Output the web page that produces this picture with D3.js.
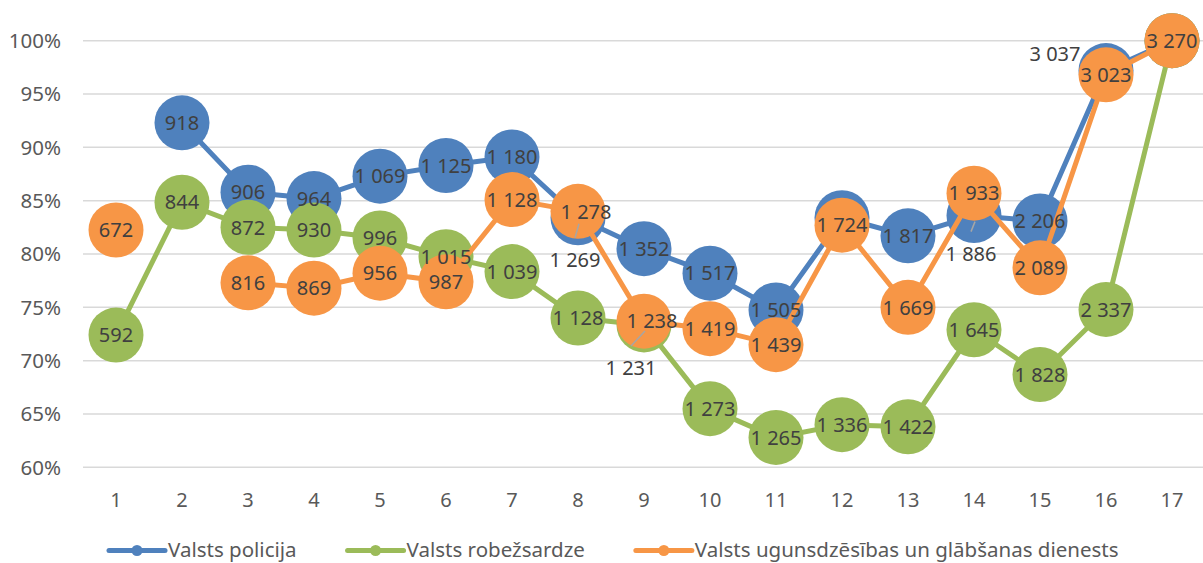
<!DOCTYPE html>
<html>
<head>
<meta charset="utf-8">
<script src="https://cdn.jsdelivr.net/npm/d3@7"></script>
<style>
  body { margin: 0; background: #fff; }
  svg { display: block; font-family: "Noto Sans", sans-serif; }
</style>
</head>
<body>
<div id="chart"></div>
<script>
// categories on the x axis
const categories = d3.range(1, 18).map(String)

// share values (fraction), null = no point
const policija = [null, 0.923, 0.858, 0.852, 0.873, 0.883, 0.891, 0.834, 0.805, 0.782, 0.7475, 0.834, 0.817, 0.836, 0.831, 0.972, 1.0]
const robezsardze = [0.724, 0.8485, 0.825, 0.8225, 0.815, 0.7975, 0.7835, 0.740, 0.7335, 0.655, 0.628, 0.640, 0.638, 0.729, 0.687, 0.748, 1.0]
const ugunsdzesiba = [0.8225, null, 0.773, 0.768, 0.782, 0.774, 0.851, 0.840, 0.737, 0.730, 0.715, 0.827, 0.750, 0.857, 0.787, 0.968, 1.0]

// counts shown as data labels, null = no label shown
const policijaLabels = [null, 918, 906, 964, 1069, 1125, 1180, 1269, 1352, 1517, 1505, null, 1817, 1886, 2206, 3037, null]
const robezsardzeLabels = [592, 844, 872, 930, 996, 1015, 1039, 1128, 1231, 1273, 1265, 1336, 1422, 1645, 1828, 2337, null]
const ugunsdzesibaLabels = [672, null, 816, 869, 956, 987, 1128, 1278, 1238, 1419, 1439, 1724, 1669, 1933, 2089, 3023, 3270]

const yTicks = [0.6, 0.65, 0.7, 0.75, 0.8, 0.85, 0.9, 0.95, 1.0]

const series = [
  { name: "Valsts policija", color: "#4F81BD", values: policija, labels: policijaLabels },
  { name: "Valsts robežsardze", color: "#9BBB59", values: robezsardze, labels: robezsardzeLabels },
  { name: "Valsts ugunsdzēsības un glābšanas dienests", color: "#F79646", values: ugunsdzesiba, labels: ugunsdzesibaLabels }
]

// labels Excel moved away from their point (series index, point index, offset, leader line)
const movedLabels = [
  { s: 0, i: 7, dx: -3, dy: 42, leader: true },
  { s: 1, i: 8, dx: -13, dy: 43, leader: true },
  { s: 0, i: 13, dx: -3, dy: 38, leader: true },
  { s: 0, i: 15, dx: -51, dy: -17, leader: false },
  { s: 2, i: 7, dx: 8, dy: 0, leader: false },
  { s: 2, i: 8, dx: 8, dy: 0, leader: false }
]

const W = 1203, H = 563
const margin = { top: 40.7, right: -2, bottom: 95.7, left: 83 }

const svg = d3.select("#chart").append("svg")
  .attr("width", W)
  .attr("height", H)

const x = d3.scaleBand()
  .domain(categories)
  .range([margin.left, W - margin.right])

const y = d3.scaleLinear()
  .domain([0.6, 1.0])
  .range([H - margin.bottom, margin.top])

const cx = (i) => x(categories[i]) + x.bandwidth() / 2

const fmtLocale = d3.formatLocale({ decimal: ",", thousands: " ", grouping: [3], currency: ["", " €"] })
const fmtCount = fmtLocale.format(",d")
const fmtPct = d3.format(".0%")

// gridlines
svg.append("g")
  .selectAll("line")
  .data(yTicks)
  .join("line")
  .attr("x1", margin.left)
  .attr("x2", W - margin.right)
  .attr("y1", d => y(d))
  .attr("y2", d => y(d))
  .attr("stroke", "#D9D9D9")
  .attr("stroke-width", 1.5)

// y labels
svg.append("g")
  .selectAll("text")
  .data(yTicks)
  .join("text")
  .attr("x", 61)
  .attr("y", d => y(d))
  .attr("dy", "0.36em")
  .attr("text-anchor", "end")
  .attr("font-size", 20.5)
  .attr("fill", "#595959")
  .text(d => fmtPct(d))

// x labels
svg.append("g")
  .selectAll("text")
  .data(categories)
  .join("text")
  .attr("x", (d, i) => cx(i))
  .attr("y", 507)
  .attr("text-anchor", "middle")
  .attr("font-size", 20)
  .attr("fill", "#595959")
  .text(d => d)

const R = 27.5

const line = d3.line()
  .defined(d => d.v != null)
  .x(d => cx(d.i))
  .y(d => y(d.v))

// lines and markers, series by series
series.forEach(function(s) {
  let pts = s.values.map((v, i) => ({ v: v, i: i }))
  let g = svg.append("g")
  g.append("path")
    .datum(pts)
    .attr("d", line)
    .attr("fill", "none")
    .attr("stroke", s.color)
    .attr("stroke-width", 5)
    .attr("stroke-linejoin", "round")
  g.selectAll("circle")
    .data(pts.filter(d => d.v != null))
    .join("circle")
    .attr("cx", d => cx(d.i))
    .attr("cy", d => y(d.v))
    .attr("r", R)
    .attr("fill", s.color)
})

// data labels on top of everything
let labelData = []
series.forEach(function(s, si) {
  s.labels.forEach(function(c, i) {
    if (c == null) return
    let m = movedLabels.find(o => o.s == si && o.i == i)
    labelData.push({ si: si, i: i, c: c, v: s.values[i], m: m })
  })
})

let lblG = svg.append("g")

// leader lines
lblG.selectAll("line")
  .data(labelData.filter(d => d.m && d.m.leader))
  .join("line")
  .attr("x1", d => cx(d.i) + 1)
  .attr("y1", d => y(d.v) + 6)
  .attr("x2", d => cx(d.i) + d.m.dx)
  .attr("y2", d => y(d.v) + d.m.dy - 22)
  .attr("stroke", "#A6A6A6")
  .attr("stroke-width", 1.5)

lblG.selectAll("text")
  .data(labelData)
  .join("text")
  .attr("x", d => cx(d.i) + (d.m ? d.m.dx : 0))
  .attr("y", d => y(d.v) + (d.m ? d.m.dy : 0))
  .attr("dy", "0.36em")
  .attr("text-anchor", "middle")
  .attr("font-size", 20)
  .attr("fill", "#404040")
  .text(d => fmtCount(d.c))

// legend
let legend = svg.append("g")
let lx = 109
const legY = 550.5
series.forEach(function(s) {
  let item = legend.append("g")
  item.append("line")
    .attr("x1", lx).attr("x2", lx + 56)
    .attr("y1", legY).attr("y2", legY)
    .attr("stroke", s.color)
    .attr("stroke-width", 5)
    .attr("stroke-linecap", "round")
  item.append("circle")
    .attr("cx", lx + 28)
    .attr("cy", legY)
    .attr("r", 5.5)
    .attr("fill", s.color)
  let t = item.append("text")
    .attr("x", lx + 59)
    .attr("y", legY)
    .attr("dy", "0.34em")
    .attr("font-size", 20.5)
    .attr("fill", "#595959")
    .text(s.name)
  lx += 59 + t.node().getComputedTextLength() + 51
})
</script>
</body>
</html>
